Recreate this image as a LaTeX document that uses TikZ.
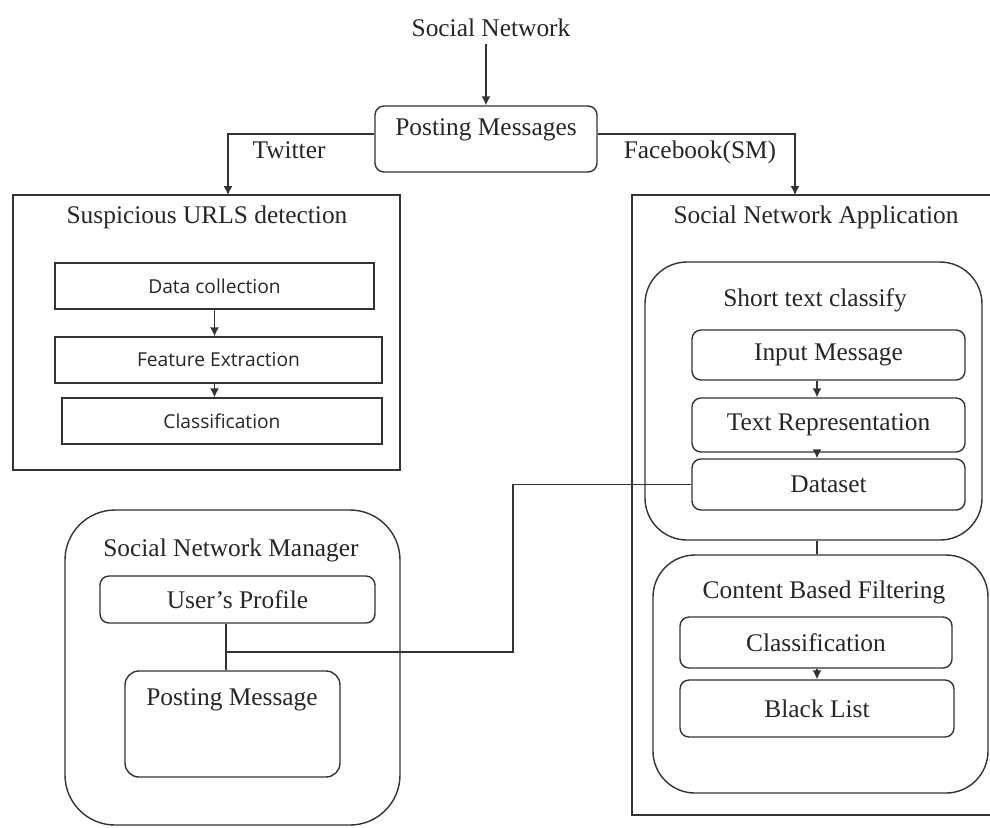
\documentclass[tikz,border=0pt]{standalone}
\usepackage{fontspec}
\setmainfont{Liberation Serif}
\newfontfamily\uisans{Open Sans}
\usetikzlibrary{fit,arrows.meta}

\tikzset{
  every node/.style={font=\fontsize{12.7}{14}\selectfont, text=black!85},
  sqbox/.style={draw=black!80, line width=0.7pt, inner sep=0pt},
  rbox/.style={sqbox, rounded corners=4.5pt},
  bigbox/.style={sqbox, rounded corners=21pt},
  sanstxt/.style={font=\uisans\fontsize{9.6}{11}\selectfont},
  ctext/.style={label={center:#1}},
  stext/.style={label={[sanstxt]center:#1}},
  arr/.style={draw=black!80, line width=0.7pt, -{Latex[length=4.5pt,width=4.5pt]}},
  lnk/.style={draw=black!80, line width=0.7pt}
}

\begin{document}
\begin{tikzpicture}[x=0.5pt,y=-0.5pt]
\useasboundingbox (0,0) rectangle (990,827);

% top part
\node (sn) at (491,28) {Social Network};
\node[rbox, fit={(375,106) (597,172)}] (pm) {};
\node (pmtxt) at (486,130) {Posting Messages};
\coordinate (tw) at (228,195);
\coordinate (fb) at (795,195);
\node (twl) at (289,150) {Twitter};
\node (fbl) at (700,152) {Facebook(SM)};

% Suspicious URLS detection
\node[sqbox, fit={(13,195) (400,470)}] (sus) {};
\node (sustitle) at (207,217) {Suspicious URLS detection};
\node[sqbox, stext={Data collection}, fit={(55,263) (374,309)}] (dc) {};
\node[sqbox, stext={Feature Extraction}, fit={(55,337) (382,383)}] (fe) {};
\node[sqbox, stext={Classification}, fit={(62,398) (382,444)}] (cl) {};

% Social Network Application
\node[sqbox, fit={(632,195) (996,815)}] (sna) {};
\node (snatitle) at (816,217) {Social Network Application};
\coordinate (ax) at (817,0);

\node[bigbox, fit={(645,262) (982,540)}] (stc) {};
\node (stctitle) at (815,300) {Short text classify};
\node[rbox, ctext={Input Message}, fit={(692,330) (965,380)}] (im) {};
\node[rbox, ctext={Text Representation}, fit={(692,398) (965,452)}] (tr) {};
\node[rbox, ctext={Dataset}, fit={(692,459) (965,510)}] (ds) {};

\node[bigbox, fit={(653,555) (988,793)}] (cbf) {};
\node (cbftitle) at (824,592) {Content Based Filtering};
\node[rbox, ctext={Classification}, fit={(680,617) (952,668)}] (cls) {};
\node[rbox, ctext={Black List}, fit={(680,680) (954,737)}] (bl) {};

% Social Network Manager
\node[sqbox, rounded corners=25pt, fit={(65,510) (400,825)}] (snm) {};
\node (snmtitle) at (231,550) {Social Network Manager};
\node[rbox, ctext={User's Profile}, fit={(100,576) (375,623)}] (up) {};
\node[sqbox, rounded corners=7pt, fit={(125,671) (340,777)}] (pmsg) {};
\node (pmsgtxt) at (232,700) {Posting Message};
\coordinate (jn) at (226,652);
\coordinate (bend) at (513,0);

% connectors
\draw[arr] (sn.south -| pm.north) -- (pm.north);
\draw[arr] ([yshift=2.5pt]pm.west) -| (tw);
\draw[arr] ([yshift=2.5pt]pm.east) -| (fb);

\draw[arr] (dc.south -| dc.south) -- (dc.south |- fe.north);
\draw[arr] (dc.south |- fe.south) -- (dc.south |- cl.north);

\draw[arr] (im.south -| ax) -- (tr.north -| ax);
\draw[arr] (tr.south -| ax) -- (ds.north -| ax);
\draw[lnk] (stc.south -| ax) -- (cbf.north -| ax);
\draw[arr] (cls.south -| ax) -- (bl.north -| ax);

\draw[lnk] (up.south -| jn) -- (pmsg.north -| jn);
\draw[lnk] (jn) -| (ds.west -| bend) -- (ds.west);

\end{tikzpicture}
\end{document}
